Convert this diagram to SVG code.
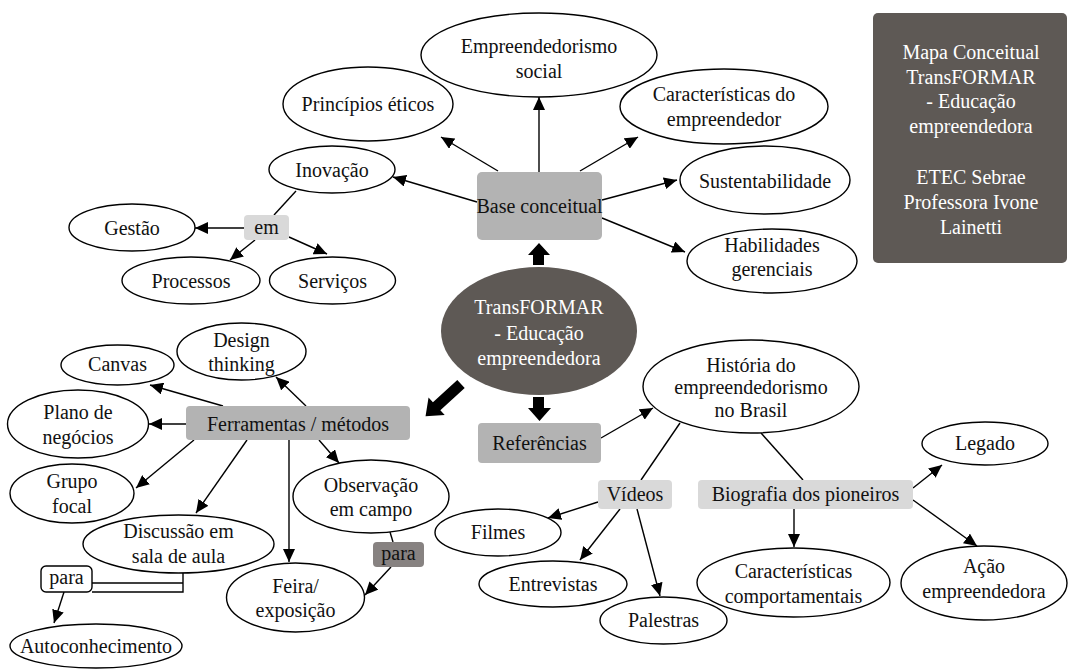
<svg xmlns="http://www.w3.org/2000/svg" width="1068" height="669" viewBox="0 0 1068 669">
<defs>
<marker id="ah" markerUnits="userSpaceOnUse" markerWidth="14" markerHeight="12" refX="13" refY="6" orient="auto">
<path d="M0,0 L13,6 L0,12 z" fill="#000"/>
</marker>
<style>
text{font-family:"Liberation Serif","Times New Roman",serif;font-size:20px;fill:#111;text-anchor:middle}
.nd ellipse{fill:#fff;stroke:#000;stroke-width:1.4}
.dk{fill:#5e5955}
.dk text,.wt{fill:#fff}
.bx{fill:#b3b3b3}
.lt{fill:#d9d9d9}
#conn line,#conn path{stroke:#000;stroke-width:1.4;fill:none}
#conn .a{marker-end:url(#ah)}
.blk{fill:#000}
</style>
</defs>
<rect width="1068" height="669" fill="#fff"/>

<g id="conn">
<line class="a" x1="539" y1="172" x2="539" y2="97"/>
<line class="a" x1="498" y1="171" x2="441" y2="137"/>
<line class="a" x1="580" y1="171" x2="638" y2="137"/>
<line class="a" x1="477" y1="202" x2="393" y2="177"/>
<line class="a" x1="602" y1="200" x2="677" y2="180"/>
<line class="a" x1="602" y1="218" x2="685" y2="252"/>
<line x1="296" y1="191" x2="274" y2="215"/>
<line class="a" x1="244" y1="228" x2="195" y2="228"/>
<line class="a" x1="255" y1="240" x2="230" y2="260"/>
<line class="a" x1="289" y1="237" x2="327" y2="254"/>
<line class="a" x1="306" y1="406" x2="276" y2="377"/>
<line class="a" x1="223" y1="406" x2="150" y2="385"/>
<line class="a" x1="186" y1="424" x2="149" y2="424"/>
<line class="a" x1="194" y1="440" x2="136" y2="488"/>
<line class="a" x1="247" y1="440" x2="196" y2="513"/>
<line class="a" x1="289" y1="440" x2="289" y2="562"/>
<line class="a" x1="319" y1="440" x2="339" y2="463"/>
<path d="M183,573 V592 H92 M92,583 H183"/>
<line class="a" x1="64" y1="592" x2="54" y2="623"/>
<line x1="390" y1="532" x2="393" y2="542"/>
<line class="a" x1="391" y1="567" x2="365" y2="595"/>
<line class="a" x1="601" y1="438" x2="653" y2="408"/>
<line x1="680" y1="423" x2="641" y2="480"/>
<line x1="761" y1="433" x2="803" y2="480"/>
<line class="a" x1="598" y1="502" x2="548" y2="518"/>
<line class="a" x1="620" y1="509" x2="580" y2="560"/>
<line class="a" x1="637" y1="509" x2="660" y2="596"/>
<line class="a" x1="794" y1="509" x2="794" y2="547"/>
<line class="a" x1="913" y1="488" x2="942" y2="465"/>
<line class="a" x1="913" y1="500" x2="977" y2="546"/>
<polygon class="blk" points="533,265 544,265 544,255 550,255 539,243 528,255 533,255"/>
<polygon class="blk" points="533,397 544,397 544,408 551,408 539.5,421 528,408 533,408"/>
<polygon class="blk" transform="translate(461,384) rotate(137.6)" points="0,-5.5 33,-5.5 33,-12 48,0 33,12 33,5.5 0,5.5"/>
</g>

<g id="title" class="dk"><rect x="873" y="13" width="194" height="250" rx="5"/>
<text x="971" y="59">Mapa Conceitual</text><text x="971" y="84">TransFORMAR</text><text x="971" y="108">- Educação</text><text x="971" y="133">empreendedora</text>
<text x="971" y="184">ETEC Sebrae</text><text x="971" y="209">Professora Ivone</text><text x="971" y="234">Lainetti</text></g>

<g id="center" class="dk"><ellipse cx="539" cy="331" rx="98" ry="64"/>
<text x="539" y="314">TransFORMAR</text><text x="539" y="339.5">- Educação</text><text x="539" y="365">empreendedora</text></g>

<g id="base"><rect class="bx" x="477" y="172" width="125" height="68" rx="5"/><text x="539.5" y="213">Base conceitual</text></g>
<g id="ferr"><rect class="bx" x="186" y="406" width="224" height="34" rx="4"/><text x="298" y="431">Ferramentas / métodos</text></g>
<g id="ref"><rect class="bx" x="478" y="423" width="123" height="40" rx="4"/><text x="539.5" y="450">Referências</text></g>
<g id="em"><rect class="lt" x="244" y="215" width="45" height="25" rx="4"/><text x="266.5" y="234">em</text></g>
<g id="videos"><rect class="lt" x="598" y="480" width="74" height="29" rx="4"/><text x="635" y="501">Vídeos</text></g>
<g id="bio"><rect class="lt" x="698" y="480" width="215" height="29" rx="4"/><text x="805.5" y="501">Biografia dos pioneiros</text></g>
<g id="para1"><rect x="41" y="566" width="51" height="26" rx="5" fill="#fff" stroke="#000" stroke-width="1.4"/><text x="66.5" y="584">para</text></g>
<g id="para2"><rect x="373" y="542" width="51" height="25" rx="4" fill="#878281"/><text x="398.5" y="560">para</text></g>

<g class="nd">
<g id="empsocial"><ellipse cx="539" cy="55" rx="118" ry="42"/><text x="539" y="53">Empreendedorismo</text><text x="539" y="78">social</text></g>
<g id="principios"><ellipse cx="368" cy="104" rx="85" ry="37"/><text x="368" y="111">Princípios éticos</text></g>
<g id="caract"><ellipse cx="724" cy="106.5" rx="104" ry="37.5"/><text x="724" y="101">Características do</text><text x="724" y="126">empreendedor</text></g>
<g id="inovacao"><ellipse cx="332" cy="169.5" rx="63" ry="23.5"/><text x="332" y="177">Inovação</text></g>
<g id="sust"><ellipse cx="765" cy="180" rx="85" ry="34"/><text x="765" y="188">Sustentabilidade</text></g>
<g id="habil"><ellipse cx="772" cy="261" rx="85" ry="32"/><text x="772" y="252">Habilidades</text><text x="772" y="276">gerenciais</text></g>
<g id="gestao"><ellipse cx="132" cy="227.5" rx="63" ry="23.5"/><text x="132" y="235">Gestão</text></g>
<g id="processos"><ellipse cx="191" cy="280.5" rx="69" ry="23.5"/><text x="191" y="288">Processos</text></g>
<g id="servicos"><ellipse cx="332.5" cy="280.5" rx="63" ry="23.5"/><text x="332.5" y="288">Serviços</text></g>
<g id="design"><ellipse cx="241.5" cy="351.5" rx="64.5" ry="28.5"/><text x="241.5" y="347">Design</text><text x="241.5" y="371">thinking</text></g>
<g id="canvas"><ellipse cx="117.5" cy="365" rx="56.5" ry="20"/><text x="117.5" y="371">Canvas</text></g>
<g id="plano"><ellipse cx="78" cy="424" rx="70.5" ry="34"/><text x="78" y="419">Plano de</text><text x="78" y="444">negócios</text></g>
<g id="grupo"><ellipse cx="72" cy="493.5" rx="62" ry="29.5"/><text x="72" y="488">Grupo</text><text x="72" y="513">focal</text></g>
<g id="discussao"><ellipse cx="178.5" cy="544" rx="95.5" ry="29"/><text x="178.5" y="538">Discussão em</text><text x="178.5" y="563">sala de aula</text></g>
<g id="observacao"><ellipse cx="371" cy="496.5" rx="78" ry="36.5"/><text x="371" y="492">Observação</text><text x="371" y="516">em campo</text></g>
<g id="feira"><ellipse cx="295.5" cy="597.5" rx="69" ry="34.5"/><text x="295.5" y="593">Feira/</text><text x="295.5" y="617">exposição</text></g>
<g id="auto"><ellipse cx="96" cy="646" rx="86" ry="22"/><text x="96" y="653">Autoconhecimento</text></g>
<g id="historia"><ellipse cx="751" cy="386.5" rx="108" ry="46.5"/><text x="751" y="372">História do</text><text x="751" y="394">empreendedorismo</text><text x="751" y="417">no Brasil</text></g>
<g id="filmes"><ellipse cx="498" cy="532.5" rx="63" ry="23.5"/><text x="498" y="539">Filmes</text></g>
<g id="entrevistas"><ellipse cx="553" cy="584" rx="74" ry="23"/><text x="553" y="591">Entrevistas</text></g>
<g id="palestras"><ellipse cx="663.5" cy="620.5" rx="63.5" ry="23.5"/><text x="663.5" y="627">Palestras</text></g>
<g id="caractcomp"><ellipse cx="793.5" cy="582.5" rx="96.5" ry="34.5"/><text x="793.5" y="578">Características</text><text x="793.5" y="603">comportamentais</text></g>
<g id="acao"><ellipse cx="984" cy="583" rx="83" ry="37"/><text x="984" y="573">Ação</text><text x="984" y="598">empreendedora</text></g>
<g id="legado"><ellipse cx="985" cy="443.5" rx="63" ry="21.5"/><text x="985" y="450">Legado</text></g>
</g>
</svg>
